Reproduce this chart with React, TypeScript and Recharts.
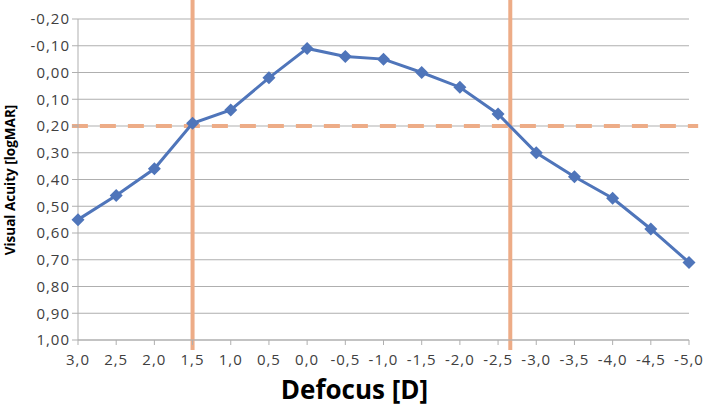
import { LineChart, Line, XAxis, YAxis, CartesianGrid, ReferenceLine } from 'recharts';

const defocus = [3.0, 2.5, 2.0, 1.5, 1.0, 0.5, 0.0, -0.5, -1.0, -1.5, -2.0, -2.5, -3.0, -3.5, -4.0, -4.5, -5.0];
const acuity = [0.55, 0.46, 0.36, 0.19, 0.14, 0.02, -0.09, -0.06, -0.05, 0.0, 0.055, 0.155, 0.30, 0.39, 0.47, 0.585, 0.71];
const yTicks = [-0.2, -0.1, 0, 0.1, 0.2, 0.3, 0.4, 0.5, 0.6, 0.7, 0.8, 0.9, 1.0];
const xTicks = defocus;
const limitY = 0.2;
const limitX = [1.5, -2.66];

const data = defocus.map((d, i) => ({ d, va: acuity[i] }));

const comma = (v: number, n: number) => (Math.abs(v) < 1e-9 ? 0 : v).toFixed(n).replace('.', ',');

const Diamond = (props: any) => {
  const { cx, cy } = props;
  if (cx == null || cy == null) return null;
  const r = 6.5;
  return <path d={`M${cx},${cy - r}L${cx + r},${cy}L${cx},${cy + r}L${cx - r},${cy}Z`} fill="#4F75BA" />;
};

const tickStyle = { fill: '#404040', fontSize: 15, fontFamily: 'Open Sans', letterSpacing: 1 };

export default function App() {
  return (
    <div style={{ position: 'absolute', left: 0, top: 0, width: 709, height: 408, background: '#fff' }}>
      <LineChart width={709} height={408} data={data} margin={{ top: 19, right: 20, left: 0, bottom: 0 }}>
        <CartesianGrid vertical={false} stroke="#AFAFAF" strokeWidth={1} />
        <XAxis
          dataKey="d"
          type="number"
          domain={[-5, 3]}
          reversed
          ticks={xTicks}
          interval={0}
          tickFormatter={(v: number) => comma(v, 1)}
          tick={tickStyle}
          stroke="#AFAFAF"
          tickSize={5}
          tickMargin={9}
          height={68}
        />
        <YAxis
          type="number"
          domain={[-0.2, 1.0]}
          reversed
          ticks={yTicks}
          interval={0}
          tickFormatter={(v: number) => comma(v, 2)}
          tick={tickStyle}
          stroke="#AFAFAF"
          tickSize={6}
          width={78}
          allowDataOverflow
        />
        <ReferenceLine
          segment={[{ x: 3.08, y: limitY }, { x: -5.12, y: limitY }]}
          stroke="#EDAC87"
          strokeWidth={4}
          strokeDasharray="16 12"
          ifOverflow="visible"
        />
        {limitX.map((x) => (
          <ReferenceLine
            key={x}
            segment={[{ x, y: -0.271 }, { x, y: 1.037 }]}
            stroke="#EDAC87"
            strokeWidth={4}
            ifOverflow="visible"
          />
        ))}
        <Line
          type="linear"
          dataKey="va"
          stroke="#4F75BA"
          strokeWidth={3}
          dot={<Diamond />}
          activeDot={false}
          isAnimationActive={false}
        />
      </LineChart>
      <div
        style={{
          position: 'absolute', left: 0, width: 709, top: 374, textAlign: 'center',
          fontFamily: 'Open Sans', fontWeight: 700, fontSize: 26, lineHeight: '30px', color: '#000',
        }}
      >
        Defocus [D]
      </div>
      <div
        style={{
          position: 'absolute', left: 10, top: 180, width: 0, height: 0,
        }}
      >
        <div
          style={{
            position: 'absolute', left: 0, top: 0, transform: 'translate(-50%, -50%) rotate(-90deg)',
            whiteSpace: 'nowrap', fontFamily: 'Open Sans', fontWeight: 700, fontSize: 13.5, color: '#000',
          }}
        >
          Visual Acuity [logMAR]
        </div>
      </div>
    </div>
  );
}
